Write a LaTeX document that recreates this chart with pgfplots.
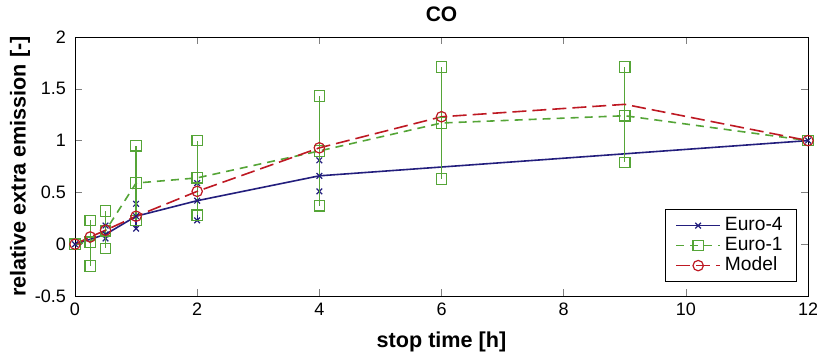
\documentclass[border=0pt]{standalone}
\usepackage{pgfplots}
\pgfplotsset{compat=1.18}
\usepackage{fontspec}
\setmainfont{Liberation Sans}
\definecolor{eurofour}{RGB}{35,30,125}
\definecolor{euroone}{RGB}{85,165,55}
\definecolor{model}{RGB}{190,25,35}
\begin{document}
\begin{tikzpicture}
\begin{axis}[
  scale only axis, width=366.5pt, height=129.5pt,
  xmin=0, xmax=12, ymin=-0.5, ymax=2,
  xtick={0,2,...,12}, ytick={-0.5,0,0.5,1,1.5,2},
  yticklabels={-0.5,0,0.5,1,1.5,2},
  tick align=inside, major tick length=3.5pt,
  /pgf/number format/assume math mode=true,
  tick label style={font=\fontsize{9}{10}\selectfont},
  yticklabel style={xshift=-1pt},
  title={\bfseries CO}, title style={font=\fontsize{10.5}{12}\selectfont, yshift=-2pt},
  xlabel={\bfseries stop time [h]}, ylabel={\bfseries relative extra emission [-]},
  label style={font=\fontsize{10.8}{12}\selectfont},
  xlabel style={yshift=-1pt}, ylabel style={yshift=-4.5pt},
  legend style={at={(0.985,0.054)}, anchor=south east, draw=black, fill=white,
    font=\fontsize{9.6}{10}\selectfont, inner xsep=5pt, inner ysep=3pt,
    nodes={text height=6.8pt, text depth=1.6pt, inner ysep=0.8pt}},
  legend cell align=left,
  legend image code/.code={\draw[#1] (0pt,0pt) -- (11pt,0pt) -- (22pt,0pt); \draw[#1, solid] plot coordinates {(11pt,0pt)};},
]
\addplot[eurofour, line width=0.8pt, mark=x, mark size=2pt, mark options={line width=0.6pt},
  error bars/.cd, y dir=both, y explicit, error mark=x,
  error bar style={eurofour, line width=0.6pt}, error mark options={eurofour, mark size=2pt, line width=0.6pt}]
  coordinates {
  (0,0)
  (0.5,0.095) += (0,0.085) -= (0,0.04)
  (1,0.27) += (0,0.12) -= (0,0.12)
  (2,0.42) += (0,0.17) -= (0,0.19)
  (4,0.66) += (0,0.15) -= (0,0.15)
  (12,1)
  };
\addlegendentry{Euro-4}
\addplot[euroone, line width=0.8pt, dash pattern=on 4pt off 3pt, mark=square, mark size=2.6pt, mark options={solid, line width=0.6pt},
  error bars/.cd, y dir=both, y explicit, error mark=square,
  error bar style={euroone, line width=0.6pt, solid}, error mark options={euroone, solid, mark size=2.6pt, line width=0.6pt}]
  coordinates {
  (0,0)
  (0.25,0.02) += (0,0.21) -= (0,0.23)
  (0.5,0.13) += (0,0.19) -= (0,0.17)
  (1,0.59) += (0,0.36) -= (0,0.36)
  (2,0.64) += (0,0.36) -= (0,0.36)
  (4,0.90) += (0,0.53) -= (0,0.53)
  (6,1.17) += (0,0.54) -= (0,0.54)
  (9,1.24) += (0,0.47) -= (0,0.45)
  (12,1)
  };
\addlegendentry{Euro-1}
\addplot[model, line width=0.8pt, dash pattern=on 7pt off 3pt, mark=o, mark size=2.6pt, mark options={solid, line width=0.6pt},
  mark indices={1,2,3,4,5,6,7,9}]
  coordinates {
  (0,0) (0.25,0.07) (0.5,0.135) (1,0.27) (2,0.51) (4,0.93) (6,1.23) (9,1.35) (12,1)
  };
\addlegendentry{Model}
\end{axis}
\pgfresetboundingbox
\path (-37.5pt,-30.5pt) rectangle (371pt,148pt);
\end{tikzpicture}
\end{document}
